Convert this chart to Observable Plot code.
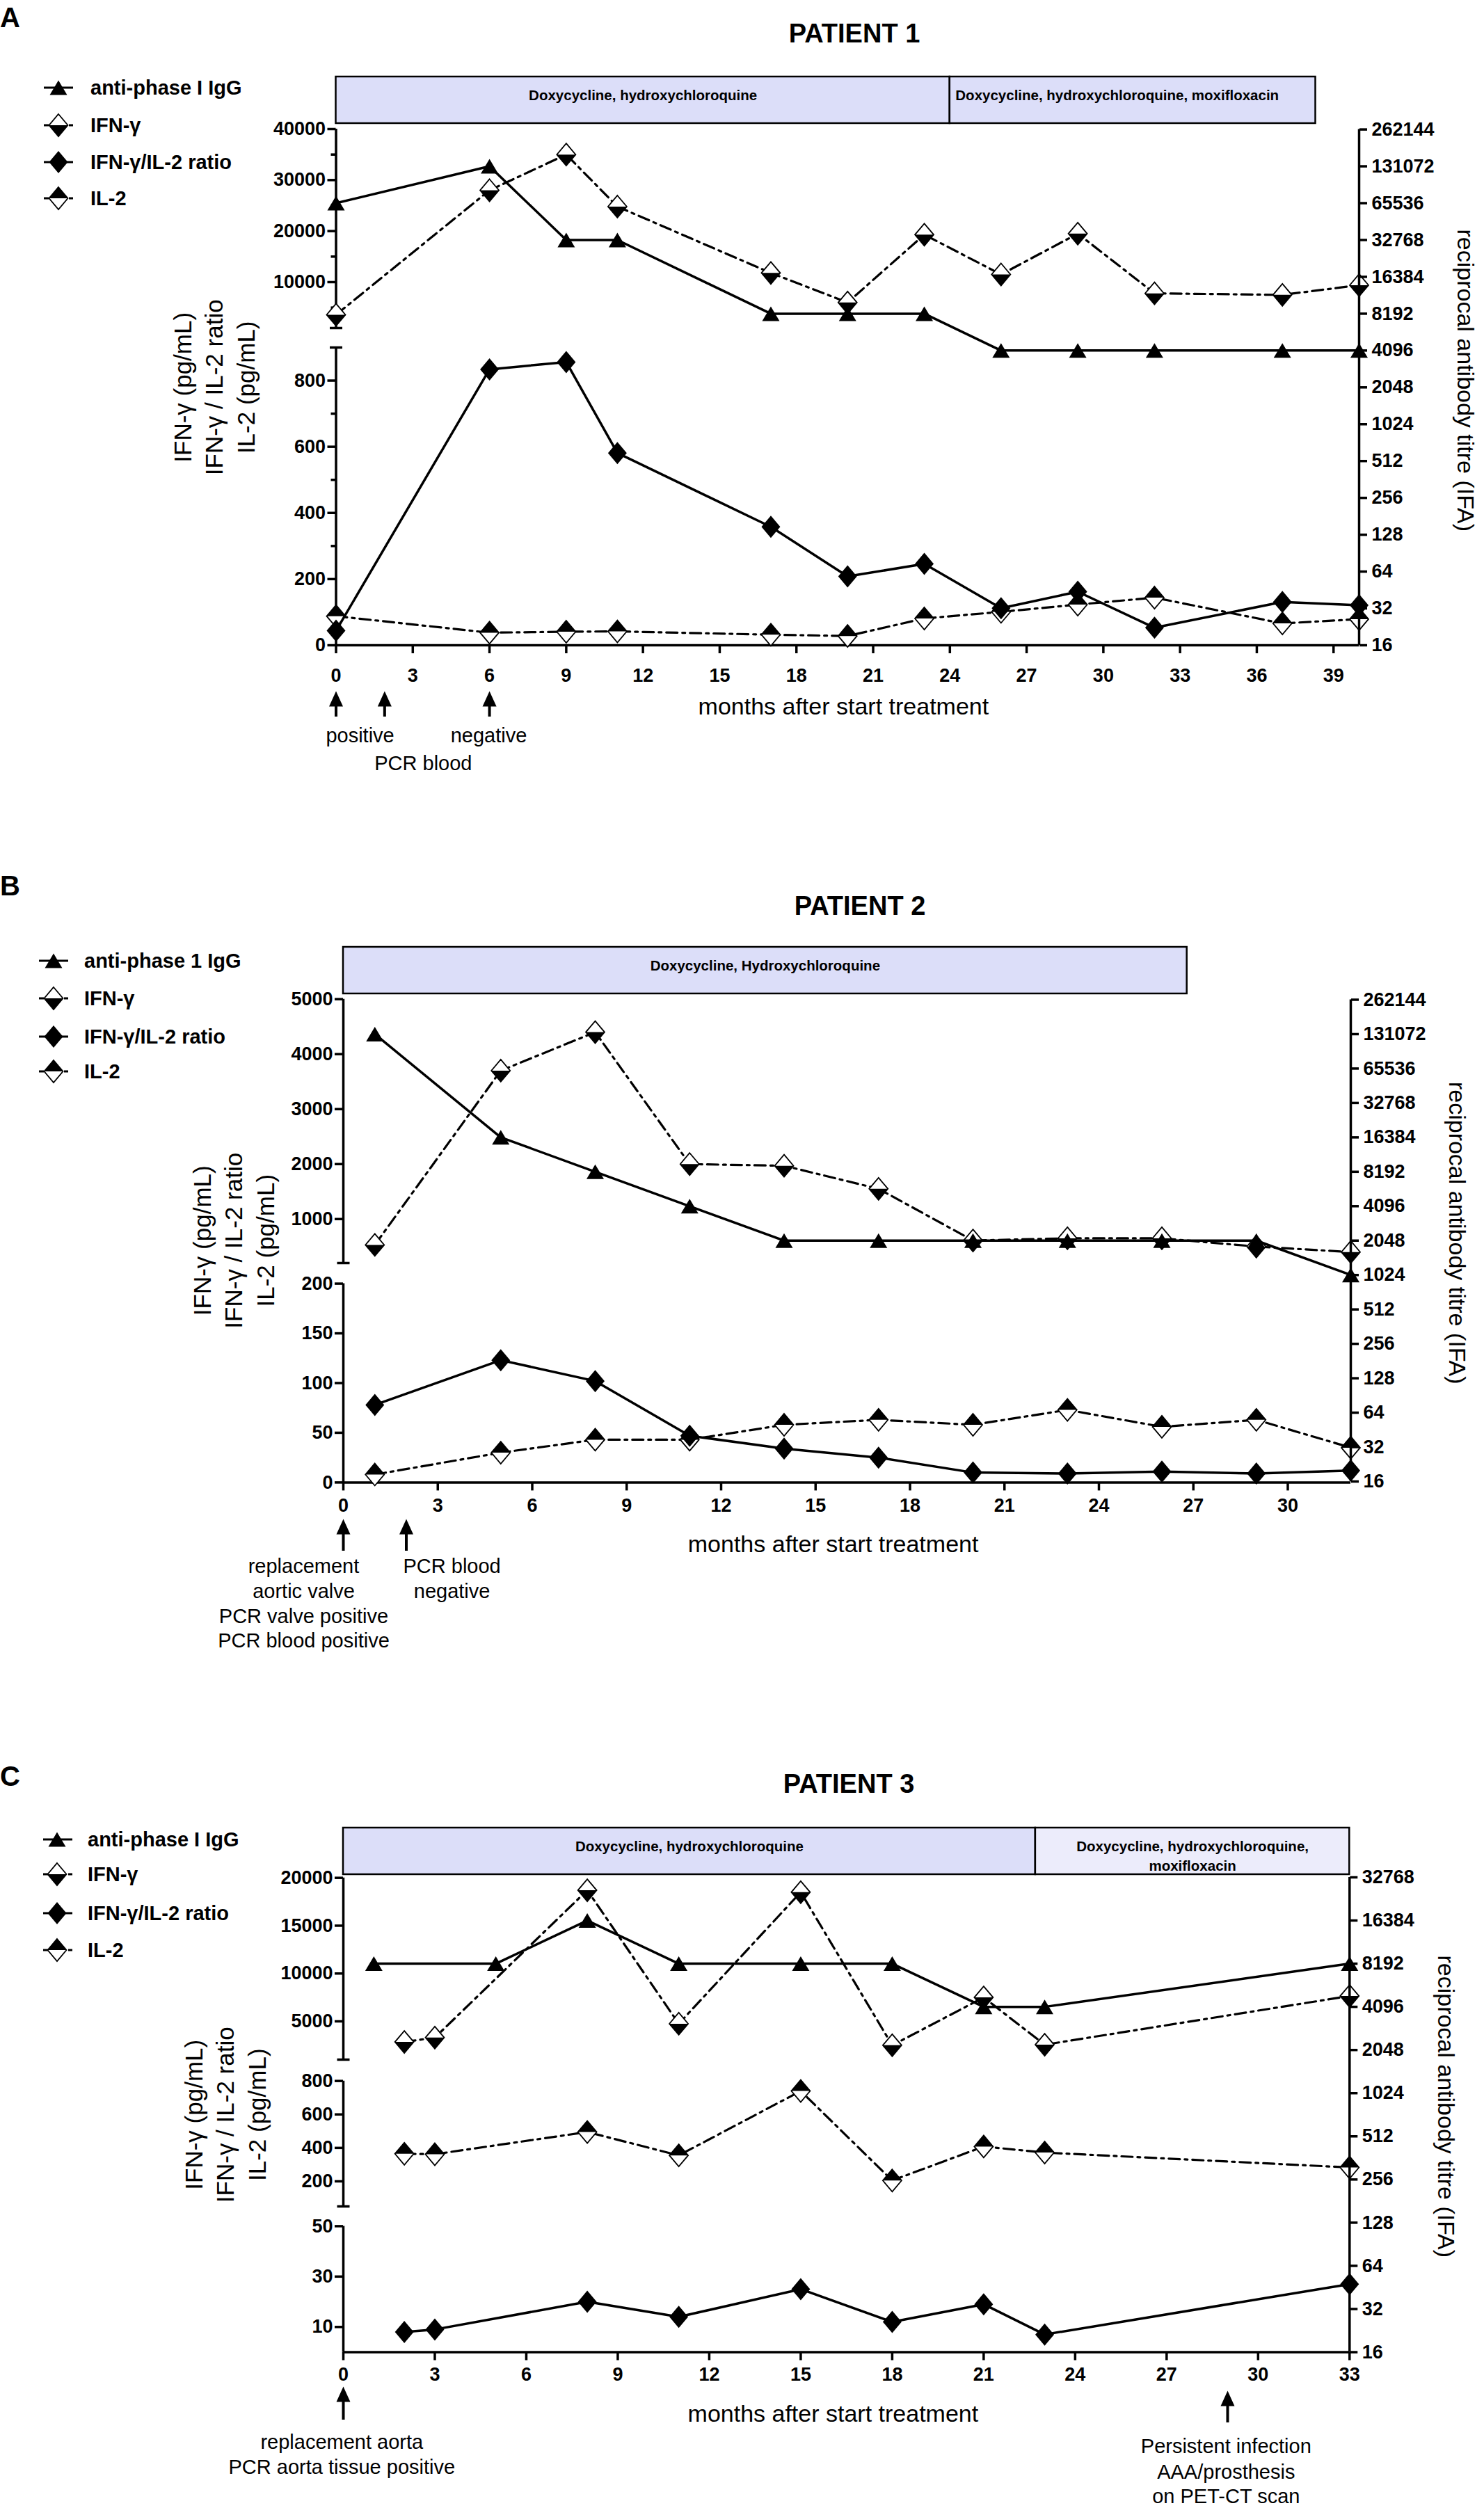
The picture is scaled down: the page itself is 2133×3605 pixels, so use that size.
<!DOCTYPE html>
<html><head><meta charset="utf-8">
<script src="https://cdn.jsdelivr.net/npm/d3@7"></script>
<script src="https://cdn.jsdelivr.net/npm/@observablehq/plot@0.6"></script>
<style>
html,body{margin:0;padding:0;background:#fff;overflow:hidden;}
#page{position:relative;width:2133px;height:3605px;background:#fff;}
#page svg{position:absolute;left:0;top:0;overflow:visible;background:transparent;}
</style></head><body><div id="page"></div>
<script>
// ================= DATA =================
// Patient 1
const p1Months = [0,6,9,11,17,20,23,26,29,32,37,40];
const p1IgG    = [65536,131072,32768,32768,8192,8192,8192,4096,4096,4096,4096,4096];
const p1IFN    = [3600,28000,35000,24800,11800,6000,19300,11500,19500,7800,7500,9400];
const p1Ratio  = [44,834,856,581,358,208,246,112,162,53,131,121];
const p1IL2    = [88,38,41,42,32,28,81,101,123,144,66,79];
// Patient 2
const p2Months = [1,5,8,11,14,17,20,23,26,29,32];
const p2IgG    = [131072,16384,8192,4096,2048,2048,2048,2048,2048,2048,1024];
const p2IFN    = [530,3700,4400,2000,1970,1550,610,650,650,500,400];
const p2Ratio  = [78,123,102,47,34,25,10,9,11,9,12];
const p2IL2    = [8,30,43,43,58,63,58,73,56,63,35];
// Patient 3
const p3IgGMonths = [1,5,8,11,15,18,21,23,33];
const p3IgG    = [8192,8192,16384,8192,8192,8192,4096,4096,8192];
const p3Months = [2,3,8,11,15,18,21,23,33];
const p3IFN    = [2850,3300,18700,4750,18500,2500,7500,2560,7650];
const p3IL2    = [365,362,495,355,740,205,408,372,283];
const p3Ratio  = [8,9,20,14,25,12,19,7,27];

// tick labels
const xTicks1 = [0,3,6,9,12,15,18,21,24,27,30,33,36,39];
const xTicks2 = [0,3,6,9,12,15,18,21,24,27,30];
const xTicks3 = [0,3,6,9,12,15,18,21,24,27,30,33];
const titreTicks  = [16,32,64,128,256,512,1024,2048,4096,8192,16384,32768,65536,131072,262144];
const titreTicks3 = [16,32,64,128,256,512,1024,2048,4096,8192,16384,32768];
const y1UpperTicks = [10000,20000,30000,40000];
const y1UpperMinor = [5000,15000,25000,35000];
const y1LowerTicks = [0,200,400,600,800];
const y1LowerMinor = [100,300,500,700];
const y2UpperTicks = [1000,2000,3000,4000,5000];
const y2LowerTicks = [0,50,100,150,200];
const y3UpperTicks = [5000,10000,15000,20000];
const y3MiddleTicks = [200,400,600,800];
const y3LowerTicks = [10,30,50];

// treatments
const treat1Start = [0,24], treat1End = [24,38.3];
const treat1Label = ["Doxycycline, hydroxychloroquine","Doxycycline, hydroxychloroquine, moxifloxacin"];
const treat2Start = [0], treat2End = [26.8];
const treat2Label = ["Doxycycline, Hydroxychloroquine"];
const treat3Start = [0,22.7], treat3End = [22.7,33];
const treat3Label = ["Doxycycline, hydroxychloroquine","Doxycycline, hydroxychloroquine,\nmoxifloxacin"];

// events (arrows) and notes
const events1Month = [0,1.9,6];
const events2Month = [0,2];
const events3Month = [0,29];
const notes1Text = ["positive","negative","PCR blood"];
const notes1Month = [0.94,5.97,3.41];
const notes2Text = ["replacement","aortic valve","PCR valve positive","PCR blood positive","PCR blood","negative"];
const notes2Month = [-1.26,-1.26,-1.26,-1.26,3.45,3.45];
const notes3Text = ["replacement aorta","PCR aorta tissue positive","Persistent infection","AAA/prosthesis","on PET-CT scan"];
const notes3Month = [-0.05,-0.05,28.95,28.95,28.95];

const legend1Labels = ["anti-phase I IgG","IFN-\u03b3","IFN-\u03b3/IL-2 ratio","IL-2"];
const legend2Labels = ["anti-phase 1 IgG","IFN-\u03b3","IFN-\u03b3/IL-2 ratio","IL-2"];
const legend3Labels = ["anti-phase I IgG","IFN-\u03b3","IFN-\u03b3/IL-2 ratio","IL-2"];

const LEFT_TITLE = "IFN-\u03b3 (pg/mL)\nIFN-\u03b3 / IL-2 ratio\nIL-2 (pg/mL)";
const RIGHT_TITLE = "reciprocal antibody titre (IFA)";
const X_TITLE = "months after start treatment";

// ================= HELPERS =================
const FONT = "'Liberation Sans', Arial, Helvetica, sans-serif";
const W = 2133, H = 3605;
const page = document.getElementById("page");
const rows = (m, v) => m.map((x, i) => ({x, y: v[i]}));

function sym(points, close = true) {
  return {draw(ctx) {
    ctx.moveTo(points[0][0], points[0][1]);
    for (let i = 1; i < points.length; i++) ctx.lineTo(points[i][0], points[i][1]);
    if (close) ctx.closePath();
  }};
}
const TW = 25, TH = 21, DW = 27, DH = 32;
const triSym = sym([[0,-TH/2],[TW/2,TH/2],[-TW/2,TH/2]]);
const diaSym = sym([[0,-DH/2],[DW/2,0],[0,DH/2],[-DW/2,0]]);
const lowSym = sym([[-DW/2,0],[DW/2,0],[0,DH/2]]);
const upSym  = sym([[-DW/2,0],[0,-DH/2],[DW/2,0]]);
const capSym = sym([[-9,0],[9,0]], false);
const arrowSym = sym([[0,0],[10,22],[-10,22]]);
const DASH = "16,7,4,7";

function seriesMarks(data, kind) {
  const xy = {x: "x", y: "y"};
  if (kind === "IgG") return [
    Plot.line(data, {...xy, stroke: "black", strokeWidth: 3.5}),
    Plot.dot(data, {...xy, symbol: triSym, r: 6, fill: "black", stroke: "none"})];
  if (kind === "ratio") return [
    Plot.line(data, {...xy, stroke: "black", strokeWidth: 3.5}),
    Plot.dot(data, {...xy, symbol: diaSym, r: 6, fill: "black", stroke: "none"})];
  if (kind === "IFN") return [
    Plot.line(data, {...xy, stroke: "black", strokeWidth: 3.2, strokeDasharray: DASH}),
    Plot.dot(data, {...xy, symbol: diaSym, r: 6, fill: "white", stroke: "black", strokeWidth: 1.8}),
    Plot.dot(data, {...xy, symbol: lowSym, r: 6, fill: "black", stroke: "none"})];
  return [
    Plot.line(data, {...xy, stroke: "black", strokeWidth: 3.2, strokeDasharray: DASH}),
    Plot.dot(data, {...xy, symbol: diaSym, r: 6, fill: "white", stroke: "black", strokeWidth: 1.8}),
    Plot.dot(data, {...xy, symbol: upSym, r: 6, fill: "black", stroke: "none"})];
}

const STYLE = `background:transparent;overflow:visible;font-family:${FONT};font-size:27px;font-weight:bold;color:black;`;

function add(svg) {
  svg.style.position = "absolute"; svg.style.left = "0px"; svg.style.top = "0px";
  svg.style.background = "transparent"; svg.style.overflow = "visible"; svg.style.maxWidth = "none";
  page.appendChild(svg);
}

function base(cfg, top, bottom, xAxis) {
  return {
    width: W, height: H,
    marginLeft: cfg.xLeft, marginRight: W - cfg.xRight, marginTop: top, marginBottom: H - bottom,
    x: xAxis ? {domain: [0, cfg.xMax]} : {domain: [0, cfg.xMax], axis: null},
    color: {type: "identity"},
    style: STYLE
  };
}

function panel(cfg) {
  // left broken-axis segments
  cfg.segs.forEach((seg, i) => {
    const isBottom = i === cfg.segs.length - 1;
    const [lo, hi] = seg.domain;
    const marks = [];
    if (isBottom) {
      marks.push(Plot.ruleY([lo], {strokeWidth: 3.5}));
      marks.push(Plot.axisX({ticks: cfg.xTicks, tickSize: 12, tickPadding: cfg.xPad, tickFormat: d => String(d), strokeWidth: 3.5, label: null}));
    }
    marks.push(Plot.ruleX([0], {y1: lo, y2: hi, strokeWidth: 3.5}));
    marks.push(Plot.axisY({ticks: seg.ticks, tickSize: 12, tickPadding: 3, tickFormat: d => String(d), strokeWidth: 3.5, label: null}));
    if (seg.minor) marks.push(Plot.axisY({ticks: seg.minor, tickSize: 7, tickFormat: () => "", strokeWidth: 3.5, label: null}));
    if (seg.caps) marks.push(Plot.dot(seg.caps, {x: 0, y: d => d, symbol: capSym, r: 5, stroke: "black", strokeWidth: 3.5, fill: "none"}));
    for (const s of seg.series) marks.push(...seriesMarks(s.data, s.kind));
    add(Plot.plot({...base(cfg, seg.px[0], seg.px[1], isBottom), y: {domain: seg.domain}, marks}));
  });
  // right log2 titre axis + IgG
  const r = cfg.right;
  add(Plot.plot({
    ...base(cfg, r.px[0], r.px[1], false),
    y: {type: "log", base: 2, domain: r.domain},
    marks: [
      Plot.ruleX([cfg.xMax], {y1: r.domain[0], y2: r.domain[1], strokeWidth: 3.5}),
      Plot.axisY({anchor: "right", ticks: r.ticks, tickSize: 11, tickPadding: 7, tickFormat: d => String(d), strokeWidth: 3.5, label: null}),
      Plot.text([RIGHT_TITLE], {frameAnchor: "right", textAnchor: "middle", rotate: 90, dx: cfg.rightLabelDx, dy: cfg.rightLabelDy, fontSize: 34, fontWeight: "normal"}),
      Plot.text([LEFT_TITLE], {frameAnchor: "left", textAnchor: "middle", rotate: -90, dx: cfg.leftLabelDx, fontSize: 35, fontWeight: "normal", lineHeight: 1.3}),
      ...seriesMarks(cfg.igg, "IgG")
    ]
  }));
  // overlay: treatment boxes, events, notes, x title
  const ov = [];
  ov.push(Plot.rect(cfg.treat, {x1: "start", x2: "end", y1: cfg.box[0], y2: cfg.box[1], fill: "fill", stroke: "black", strokeWidth: 2.5}));
  cfg.treat.forEach(t => {
    ov.push(Plot.text([t], {
      x: t.align === "start" ? "start" : d => (d.start + d.end) / 2,
      dx: t.align === "start" ? 8 : 0,
      y: cfg.box[0] + 14, text: "label", textAnchor: t.align, lineAnchor: "top",
      fontSize: 20.5, fontWeight: "bold", lineHeight: 1.35
    }));
  });
  ov.push(Plot.ruleX(cfg.events, {x: "m", y1: d => d.tip + 12, y2: "base", strokeWidth: 4}));
  ov.push(Plot.dot(cfg.events, {x: "m", y: "tip", symbol: arrowSym, r: 5, fill: "black", stroke: "none"}));
  ov.push(Plot.text(cfg.notes, {x: "m", y: "y", text: "t", fontSize: 29, fontWeight: "normal"}));
  ov.push(Plot.text([X_TITLE], {x: cfg.xTitle.m, y: cfg.xTitle.y, fontSize: 34, fontWeight: "normal"}));
  add(Plot.plot({...base(cfg, 0, H, false), y: {domain: [0, H], range: [0, H], axis: null}, marks: ov}));
}

const FILL = "#dcdef9", FILL_LIGHT = "#ececfb";
const mkTreat = (s, e, l, fills, aligns) => s.map((v, i) => ({start: v, end: e[i], label: l[i], fill: fills[i], align: aligns[i]}));
const mkEvents = (m, tips, bases) => m.map((v, i) => ({m: v, tip: tips[i], base: bases[i]}));
const mkNotes = (t, m, ys) => t.map((v, i) => ({t: v, m: m[i], y: ys[i]}));

// ================= PANELS =================
panel({
  xMax: 40, xLeft: 482.5, xRight: 1953, xTicks: xTicks1, xPad: 21,
  segs: [
    {domain: [1000, 40000], px: [185, 471], ticks: y1UpperTicks, minor: y1UpperMinor, caps: [1000],
     series: [{kind: "IFN", data: rows(p1Months, p1IFN)}]},
    {domain: [0, 900], px: [499, 927], ticks: y1LowerTicks, minor: y1LowerMinor, caps: [900],
     series: [{kind: "IL2", data: rows(p1Months, p1IL2)}, {kind: "ratio", data: rows(p1Months, p1Ratio)}]}
  ],
  right: {domain: [16, 262144], px: [185.6, 927], ticks: titreTicks},
  igg: rows(p1Months, p1IgG),
  rightLabelDx: 152, rightLabelDy: -10, leftLabelDx: -177.5,
  box: [110, 177],
  treat: mkTreat(treat1Start, treat1End, treat1Label, [FILL, FILL], ["middle", "start"]),
  events: mkEvents(events1Month, [993, 993, 993], [1030, 1030, 1030]),
  notes: mkNotes(notes1Text, notes1Month, [1057, 1057, 1097]),
  xTitle: {m: 19.84, y: 1016}
});

panel({
  xMax: 32, xLeft: 493, xRight: 1941, xTicks: xTicks2, xPad: 11,
  segs: [
    {domain: [200, 5000], px: [1435.7, 1815], ticks: y2UpperTicks, caps: [200],
     series: [{kind: "IFN", data: rows(p2Months, p2IFN)}]},
    {domain: [0, 200], px: [1844.6, 2130.4], ticks: y2LowerTicks,
     series: [{kind: "IL2", data: rows(p2Months, p2IL2)}, {kind: "ratio", data: rows(p2Months, p2Ratio)}]}
  ],
  right: {domain: [16, 262144], px: [1436.5, 2129], ticks: titreTicks},
  igg: rows(p2Months, p2IgG),
  rightLabelDx: 152, rightLabelDy: -11, leftLabelDx: -160,
  box: [1361, 1428],
  treat: mkTreat(treat2Start, treat2End, treat2Label, [FILL], ["middle"]),
  events: mkEvents(events2Month, [2183, 2183], [2229, 2229]),
  notes: mkNotes(notes2Text, notes2Month, [2251, 2287, 2323, 2358, 2251, 2287]),
  xTitle: {m: 15.56, y: 2220}
});

panel({
  xMax: 33, xLeft: 493, xRight: 1939.3, xTicks: xTicks3, xPad: 9.5,
  segs: [
    {domain: [1000, 20000], px: [2698.7, 2960], ticks: y3UpperTicks, caps: [1000],
     series: [{kind: "IFN", data: rows(p3Months, p3IFN)}]},
    {domain: [50, 800], px: [2990.7, 3171], ticks: y3MiddleTicks, caps: [50],
     series: [{kind: "IL2", data: rows(p3Months, p3IL2)}]},
    {domain: [0, 50], px: [3199.4, 3380.5], ticks: y3LowerTicks,
     series: [{kind: "ratio", data: rows(p3Months, p3Ratio)}]}
  ],
  right: {domain: [16, 32768], px: [2698, 3380.5], ticks: titreTicks3},
  igg: rows(p3IgGMonths, p3IgG),
  rightLabelDx: 138, rightLabelDy: -12, leftLabelDx: -172,
  box: [2627, 2694],
  treat: mkTreat(treat3Start, treat3End, treat3Label, [FILL, FILL_LIGHT], ["middle", "middle"]),
  events: mkEvents(events3Month, [3430, 3436], [3478, 3482]),
  notes: mkNotes(notes3Text, notes3Month, [3510, 3546, 3516, 3553, 3588]),
  xTitle: {m: 16.06, y: 3470}
});

// ================= LEGENDS, LETTERS, TITLES =================
const deco = d3.select(page).append("svg").attr("width", W).attr("height", H)
  .style("font-family", FONT);
const pathOf = s => { const p = d3.path(); s.draw(p, 0); return p.toString(); };
function legend(cfg, labels) {
  const kinds = ["IgG", "IFN", "ratio", "IL2"];
  kinds.forEach((k, i) => {
    const g = deco.append("g").attr("transform", `translate(0,${cfg.ys[i]})`);
    g.append("line").attr("x1", cfg.x0).attr("x2", cfg.x1).attr("stroke", "black").attr("stroke-width", 3)
      .attr("stroke-dasharray", (k === "IFN" || k === "IL2") ? "7,4,3,4" : null);
    const s = g.append("g").attr("transform", `translate(${cfg.cx},0)`);
    if (k === "IgG") s.append("path").attr("d", pathOf(triSym)).attr("fill", "black");
    if (k === "ratio") s.append("path").attr("d", pathOf(diaSym)).attr("fill", "black");
    if (k === "IFN" || k === "IL2") {
      s.append("path").attr("d", pathOf(diaSym)).attr("fill", "white").attr("stroke", "black").attr("stroke-width", 1.8);
      s.append("path").attr("d", pathOf(k === "IFN" ? lowSym : upSym)).attr("fill", "black");
    }
    g.append("text").attr("x", cfg.tx).attr("dy", "0.35em").attr("font-size", 29).attr("font-weight", "bold").text(labels[i]);
  });
}
legend({ys: [126, 180, 233, 285], cx: 84, x0: 63, x1: 105, tx: 130}, legend1Labels);
legend({ys: [1381, 1435, 1490, 1540], cx: 77, x0: 56, x1: 98, tx: 121}, legend2Labels);
legend({ys: [2644, 2694, 2750, 2803], cx: 82, x0: 62, x1: 104, tx: 126}, legend3Labels);

const letters = ["A", "B", "C"], letterY = [25, 1273, 2553];
const titles = ["PATIENT 1", "PATIENT 2", "PATIENT 3"], titleX = [1228, 1236, 1220], titleY = [48, 1302, 2564];
letters.forEach((l, i) => deco.append("text").attr("x", 0).attr("y", letterY[i]).attr("dy", "0.35em")
  .attr("font-size", 40).attr("font-weight", "bold").text(l));
titles.forEach((t, i) => deco.append("text").attr("x", titleX[i]).attr("y", titleY[i]).attr("dy", "0.35em")
  .attr("text-anchor", "middle").attr("font-size", 38).attr("font-weight", "bold").text(t));
</script></body></html>
